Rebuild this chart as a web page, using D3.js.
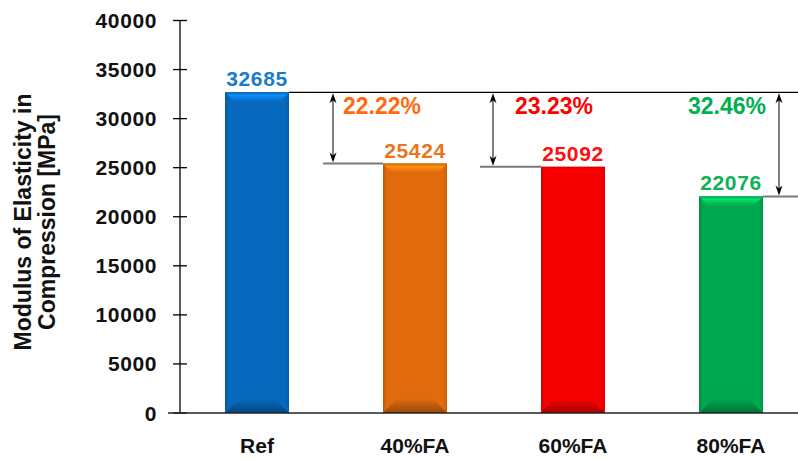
<!DOCTYPE html>
<html>
<head>
<meta charset="utf-8">
<script src="https://cdn.jsdelivr.net/npm/d3@7"></script>
<style>
  html, body { margin: 0; padding: 0; background: #fff; }
  svg { display: block; font-family: "Liberation Sans", Arial, sans-serif; }
</style>
</head>
<body>
<div id="chart"></div>
<script>
// =========================
// DATA
// =========================
const categories = ["Ref", "40%FA", "60%FA", "80%FA"];
const values = [32685, 25424, 25092, 22076];
const reductions = [null, "22.22%", "23.23%", "32.46%"];
const barColors = ["#0769BD", "#E06A0C", "#F50000", "#00A84F"];
const labelColors = ["#1A7BCB", "#E8761E", "#FF1010", "#10B058"];
const pctColors = [null, "#FF6A10", "#FF0000", "#00B050"];
const yTicks = [0, 5000, 10000, 15000, 20000, 25000, 30000, 35000, 40000];

const W = 798, H = 459;

const svg = d3.select("#chart")
    .append("svg")
    .attr("width", W)
    .attr("height", H);

const x = d3.scaleBand()
    .domain(categories)
    .range([178, 810])
    .paddingInner(0.595)
    .paddingOuter(0.2975);

const y = d3.scaleLinear()
    .domain([0, 40000])
    .range([413, 20.5]);

const bw = x.bandwidth();
const defs = svg.append("defs");

// =========================
// BAR GRADIENTS (bevel look)
// =========================
categories.forEach((c, i) => {
    const base = d3.color(barColors[i]);
    const side = defs.append("linearGradient")
        .attr("id", `side${i}`)
        .attr("x1", 0).attr("x2", 1).attr("y1", 0).attr("y2", 0);
    side.append("stop").attr("offset", "0%").attr("stop-color", base.darker(0.5));
    side.append("stop").attr("offset", "6%").attr("stop-color", base);
    side.append("stop").attr("offset", "94%").attr("stop-color", base);
    side.append("stop").attr("offset", "100%").attr("stop-color", base.darker(0.3));

    const top = defs.append("linearGradient")
        .attr("id", `top${i}`)
        .attr("x1", 0).attr("x2", 0).attr("y1", 0).attr("y2", 1);
    top.append("stop").attr("offset", "0%").attr("stop-color", base.darker(0.4));
    top.append("stop").attr("offset", "30%").attr("stop-color", base.brighter(0.9));
    top.append("stop").attr("offset", "100%").attr("stop-color", base);

    const bot = defs.append("linearGradient")
        .attr("id", `bot${i}`)
        .attr("x1", 0).attr("x2", 0).attr("y1", 0).attr("y2", 1);
    bot.append("stop").attr("offset", "0%").attr("stop-color", base);
    bot.append("stop").attr("offset", "100%").attr("stop-color", base.darker(1.1));
});

// =========================
// AXES
// =========================
svg.append("line")
    .attr("x1", 180).attr("x2", 180)
    .attr("y1", y(40000)).attr("y2", y(0))
    .attr("stroke", "#000").attr("stroke-width", 1.3);

svg.selectAll(".ytick")
    .data(yTicks)
    .enter()
    .append("line")
    .attr("x1", 173).attr("x2", 187)
    .attr("y1", d => y(d)).attr("y2", d => y(d))
    .attr("stroke", "#000").attr("stroke-width", 1.3);

svg.selectAll(".ylabel")
    .data(yTicks)
    .enter()
    .append("text")
    .attr("x", 157)
    .attr("y", d => y(d))
    .attr("dy", "0.36em")
    .attr("text-anchor", "end")
    .style("font-size", "21px")
    .style("font-weight", "bold")
    .style("letter-spacing", "0.6px")
    .attr("fill", "#111")
    .text(d => d);

svg.append("text")
    .attr("transform", `translate(31,222) rotate(-90)`)
    .attr("text-anchor", "middle")
    .style("font-size", "23px")
    .style("font-weight", "bold")
    .attr("fill", "#111")
    .selectAll("tspan")
    .data(["Modulus of Elasticity in", "Compression [MPa]"])
    .enter()
    .append("tspan")
    .attr("x", 0)
    .attr("dy", (d, i) => i === 0 ? 0 : 24)
    .text(d => d);

// =========================
// BARS
// =========================
const bars = svg.selectAll(".bar")
    .data(values)
    .enter()
    .append("g");

bars.append("rect")
    .attr("x", (d, i) => x(categories[i]))
    .attr("y", d => y(d))
    .attr("width", bw)
    .attr("height", d => y(0) - y(d))
    .attr("fill", (d, i) => `url(#side${i})`);

bars.append("path")
    .attr("d", (d, i) => {
        const x0 = x(categories[i]), x1 = x0 + bw, t = y(d), h = 9;
        return `M${x0},${t}L${x1},${t}L${x1 - h},${t + h}L${x0 + h},${t + h}Z`;
    })
    .attr("fill", (d, i) => `url(#top${i})`);

bars.append("path")
    .attr("d", (d, i) => {
        const x0 = x(categories[i]), x1 = x0 + bw, b = y(0), h = 14;
        return `M${x0},${b}L${x1},${b}L${x1 - h},${b - h}L${x0 + h},${b - h}Z`;
    })
    .attr("fill", (d, i) => `url(#bot${i})`);

// x axis line (over bars)
svg.append("line")
    .attr("x1", 168).attr("x2", W)
    .attr("y1", y(0)).attr("y2", y(0))
    .attr("stroke", "#222").attr("stroke-width", 1.5);

svg.selectAll(".xlabel")
    .data(categories)
    .enter()
    .append("text")
    .attr("x", d => x(d) + bw / 2)
    .attr("y", 453)
    .attr("text-anchor", "middle")
    .style("font-size", "21px")
    .style("font-weight", "bold")
    .attr("fill", "#111")
    .text(d => d);

// value labels
svg.selectAll(".vlabel")
    .data(values)
    .enter()
    .append("text")
    .attr("x", (d, i) => x(categories[i]) + bw / 2)
    .attr("y", d => y(d) - 6)
    .attr("text-anchor", "middle")
    .style("font-size", "21px")
    .style("font-weight", "bold")
    .style("letter-spacing", "0.6px")
    .attr("fill", (d, i) => labelColors[i])
    .text(d => d);

// =========================
// REDUCTION ANNOTATIONS
// =========================
const refTop = y(values[0]);

svg.append("line")
    .attr("x1", x(categories[0]) + bw).attr("x2", W)
    .attr("y1", refTop).attr("y2", refTop)
    .attr("stroke", "#000").attr("stroke-width", 1.2);

const arrowX = [null,
    x(categories[1]) - 50,
    x(categories[2]) - 48,
    x(categories[3]) + bw + 16];

const guides = [null,
    [arrowX[1] - 10, x(categories[1])],
    [arrowX[2] - 13, x(categories[2])],
    [x(categories[3]) + bw, W]];

function arrowHead(ax, ay, dir) {
    // dir = 1 pointing down, -1 pointing up
    const l = 10 * dir, w = 3.5, n = 7 * dir;
    return `M${ax},${ay}L${ax - w},${ay - l}L${ax},${ay - n}L${ax + w},${ay - l}Z`;
}

for (let i = 1; i < values.length; i++) {
    const yv = y(values[i]);
    svg.append("line")
        .attr("x1", guides[i][0]).attr("x2", guides[i][1])
        .attr("y1", yv).attr("y2", yv)
        .attr("stroke", "#7a7a7a").attr("stroke-width", 2);

    svg.append("line")
        .attr("x1", arrowX[i]).attr("x2", arrowX[i])
        .attr("y1", refTop + 4).attr("y2", yv - 4)
        .attr("stroke", "#000").attr("stroke-width", 1);
    svg.append("path").attr("d", arrowHead(arrowX[i], refTop + 1, -1)).attr("fill", "#000");
    svg.append("path").attr("d", arrowHead(arrowX[i], yv - 1, 1)).attr("fill", "#000");
}

const pctX = [null, arrowX[1] + 10, arrowX[2] + 22, arrowX[3] - 91];
svg.selectAll(".pct")
    .data(reductions.slice(1))
    .enter()
    .append("text")
    .attr("x", (d, i) => pctX[i + 1])
    .attr("y", 114)
    .style("font-size", "23px")
    .style("font-weight", "bold")
    .attr("fill", (d, i) => pctColors[i + 1])
    .text(d => d);
</script>
</body>
</html>
